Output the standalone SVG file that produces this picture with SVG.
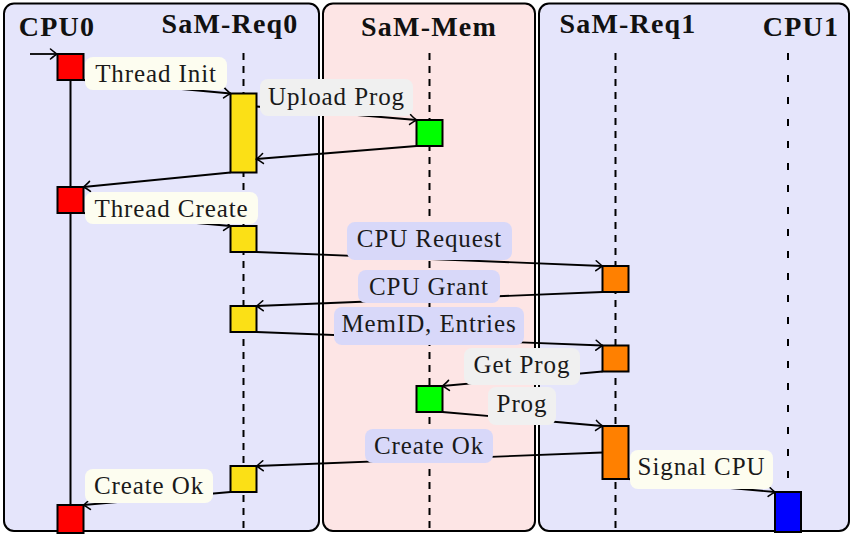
<svg xmlns="http://www.w3.org/2000/svg" width="851" height="534" viewBox="0 0 851 534">
  <style>
    .panel { stroke: #000; stroke-width: 2; }
    .title { font-family: "Liberation Serif", "Times New Roman", serif; font-weight: bold; font-size: 28px; letter-spacing: 1.2px; text-anchor: middle; fill: #111; }
    .life { stroke: #000; stroke-width: 2; fill: none; stroke-dasharray: 7 6; }
    .life-loose { stroke: #000; stroke-width: 2; fill: none; stroke-dasharray: 7 15; }
    .box { stroke: #000; stroke-width: 2; }
    .msg { stroke: #000; stroke-width: 1.8; fill: none; marker-end: url(#tip); }
    .plain { stroke: #000; stroke-width: 1.8; fill: none; }
    .lbl { font-family: "Liberation Serif", "Times New Roman", serif; font-size: 25px; letter-spacing: 0.9px; text-anchor: middle; fill: #1a1a1a; }
    .cream { fill: #fdfdf0; }
    .grey { fill: #f0f0f0; }
    .blue { fill: #d8d8f9; }
  </style>
  <defs>
    <marker id="tip" markerUnits="userSpaceOnUse" markerWidth="12" markerHeight="14" viewBox="-8 -7 10 14" refX="0" refY="0" orient="auto">
      <path d="M-6.5,-5 Q-2,-1.2 0,0 Q-2,1.2 -6.5,5" fill="none" stroke="#000" stroke-width="1.6" stroke-linecap="round"/>
    </marker>
  </defs>

  <!-- swimlane panels -->
  <g id="panel-left">
    <rect class="panel" x="4" y="3.5" width="315" height="527.5" rx="10" fill="#e5e5fb"/>
    <text class="title" x="57" y="36">CPU0</text>
    <text class="title" x="230" y="33">SaM-Req0</text>
  </g>
  <g id="panel-mem">
    <rect class="panel" x="323" y="3.5" width="212" height="527.5" rx="10" fill="#fde5e5"/>
    <text class="title" x="429" y="36">SaM-Mem</text>
  </g>
  <g id="panel-right">
    <rect class="panel" x="539" y="3.5" width="310" height="527.5" rx="10" fill="#e5e5fb"/>
    <text class="title" x="628" y="33">SaM-Req1</text>
    <text class="title" x="801" y="36">CPU1</text>
  </g>

  <!-- lifelines -->
  <g id="lifelines">
    <line x1="70.5" y1="80" x2="70.5" y2="505" stroke="#000" stroke-width="2"/>
    <line class="life" x1="243.5" y1="53" x2="243.5" y2="529"/>
    <line class="life" x1="429.5" y1="53" x2="429.5" y2="529"/>
    <line class="life" x1="615.5" y1="53" x2="615.5" y2="529"/>
    <line class="life-loose" x1="788" y1="53" x2="788" y2="492"/>
  </g>

  <!-- activation boxes -->
  <g id="cpu0-init"><rect class="box" x="57.5" y="54" width="26" height="26" fill="#ff0000"/></g>
  <g id="cpu0-create"><rect class="box" x="57.5" y="187" width="26" height="26" fill="#ff0000"/></g>
  <g id="cpu0-done"><rect class="box" x="57.5" y="505" width="26" height="28" fill="#ff0000"/></g>
  <g id="req0-init"><rect class="box" x="230.5" y="93.5" width="26" height="79" fill="#fbe016"/></g>
  <g id="req0-request"><rect class="box" x="230.5" y="226" width="26" height="26" fill="#fbe016"/></g>
  <g id="req0-grant"><rect class="box" x="230.5" y="306" width="26" height="26" fill="#fbe016"/></g>
  <g id="req0-ok"><rect class="box" x="230.5" y="466" width="26" height="26" fill="#fbe016"/></g>
  <g id="mem-upload"><rect class="box" x="416.5" y="120" width="26" height="26" fill="#00ff00"/></g>
  <g id="mem-get"><rect class="box" x="416.5" y="386" width="26" height="26" fill="#00ff00"/></g>
  <g id="req1-request"><rect class="box" x="602.5" y="266" width="26" height="26" fill="#ff8000"/></g>
  <g id="req1-entries"><rect class="box" x="602.5" y="345.5" width="26" height="26" fill="#ff8000"/></g>
  <g id="req1-prog"><rect class="box" x="602.5" y="426" width="26" height="53" fill="#ff8000"/></g>
  <g id="cpu1-run"><rect class="box" x="775" y="492" width="26" height="40" fill="#0000ff"/></g>

  <!-- messages -->
  <g id="connectors">
    <g id="msg-lines">
      <line class="msg" x1="30" y1="54" x2="57" y2="54"/>
      <line class="msg" x1="83.5" y1="80" x2="230.5" y2="93.5"/>
      <line class="msg" x1="256.5" y1="106.5" x2="416.5" y2="120"/>
      <line class="msg" x1="416.5" y1="146" x2="256.5" y2="159"/>
      <line class="msg" x1="230.5" y1="172.5" x2="83.5" y2="187"/>
      <line class="msg" x1="83.5" y1="213" x2="230.5" y2="226"/>
      <line class="msg" x1="256.5" y1="252" x2="602.5" y2="266"/>
      <line class="msg" x1="602.5" y1="292" x2="256.5" y2="306"/>
      <line class="msg" x1="256.5" y1="332" x2="602.5" y2="345.5"/>
      <line class="msg" x1="602.5" y1="371.5" x2="442.5" y2="386"/>
      <line class="msg" x1="442.5" y1="412" x2="602.5" y2="426"/>
      <line class="msg" x1="602.5" y1="452.5" x2="256.5" y2="466"/>
      <line class="msg" x1="230.5" y1="492" x2="83.5" y2="505"/>
      <line class="msg" x1="628.5" y1="479" x2="775" y2="492"/>
    </g>
    <g id="msg-labels">
      <g id="lbl-thread-init"><rect class="cream" x="85" y="57" width="142" height="33" rx="8"/><text class="lbl" x="156" y="82">Thread Init</text></g>
      <g id="lbl-upload-prog"><rect class="grey" x="260" y="79" width="153" height="37" rx="8"/><text class="lbl" x="336.5" y="104.5">Upload Prog</text></g>
      <g id="lbl-thread-create"><rect class="cream" x="85" y="192" width="173" height="32" rx="8"/><text class="lbl" x="171.5" y="217">Thread Create</text></g>
      <g id="lbl-cpu-request"><rect class="blue" x="347" y="222" width="165" height="38" rx="8"/><text class="lbl" x="429.5" y="247">CPU Request</text></g>
      <g id="lbl-cpu-grant"><rect class="blue" x="358" y="270" width="142" height="33" rx="8"/><text class="lbl" x="429" y="295">CPU Grant</text></g>
      <g id="lbl-memid"><rect class="blue" x="334" y="307" width="190" height="38" rx="8"/><text class="lbl" x="429" y="332">MemID, Entries</text></g>
      <g id="lbl-get-prog"><rect class="grey" x="464" y="348" width="116" height="37" rx="8"/><text class="lbl" x="522" y="372.5">Get Prog</text></g>
      <g id="lbl-prog"><rect class="grey" x="488" y="387" width="68" height="38" rx="8"/><text class="lbl" x="522" y="412">Prog</text></g>
      <g id="lbl-create-ok-req"><rect class="blue" x="365" y="429" width="128" height="34" rx="8"/><text class="lbl" x="429" y="454">Create Ok</text></g>
      <g id="lbl-create-ok-cpu"><rect class="cream" x="85" y="469" width="128" height="34" rx="8"/><text class="lbl" x="149" y="494">Create Ok</text></g>
      <g id="lbl-signal-cpu"><rect class="cream" x="630" y="450" width="143" height="39" rx="8"/><text class="lbl" x="701.5" y="475">Signal CPU</text></g>
    </g>
  </g>
</svg>
